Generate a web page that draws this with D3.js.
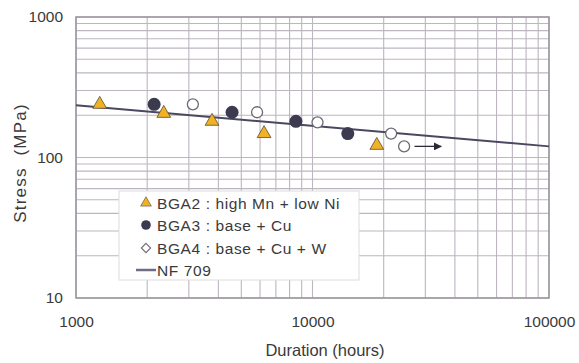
<!DOCTYPE html>
<html>
<head>
<meta charset="utf-8">
<script src="https://cdn.jsdelivr.net/npm/d3@7"></script>
<style>
  body { margin: 0; background: #fff; }
  text { font-family: "Liberation Sans", Arial, sans-serif; fill: #3a3a3a; }
</style>
</head>
<body>
<script>
const width = 579;
const height = 363;

// data
const seriesNames = ["BGA2 : high Mn + low Ni", "BGA3 : base + Cu", "BGA4 : base + Cu + W", "NF 709"];
const bga2Hours = [1260, 2350, 3760, 6240, 18700];
const bga2Stress = [239, 206, 181, 148, 122];
const bga3Hours = [2140, 4570, 8510, 14100];
const bga3Stress = [239, 210, 181, 148];
const bga4Hours = [3120, 5830, 10500, 21500, 24400];
const bga4Stress = [239, 210, 178, 148, 120];
const nf709Hours = [1000, 100000];
const nf709Stress = [235, 120];
const runoutHours = [27000, 35000];
const runoutStress = 120;
const xTicks = [1000, 10000, 100000];
const yTicks = [10, 100, 1000];

const margin = {top: 17, right: 30, bottom: 65, left: 76};

let svg = d3.select("body")
    .append("svg")
    .attr("width", width)
    .attr("height", height)

const x = d3.scaleLog().domain([1000, 100000]).range([margin.left, width - margin.right])
const y = d3.scaleLog().domain([10, 1000]).range([height - margin.bottom, margin.top])

// grid: every 1..9 step of each decade
const xGrid = x.ticks(20)
const yGrid = y.ticks(20)

svg.append("g")
    .selectAll("line")
    .data(xGrid)
    .join("line")
    .attr("x1", d => x(d)).attr("x2", d => x(d))
    .attr("y1", y(10)).attr("y2", y(1000))
    .attr("stroke", "#bdb5c0")
    .attr("stroke-width", 1.1)

svg.append("g")
    .selectAll("line")
    .data(yGrid)
    .join("line")
    .attr("y1", d => y(d)).attr("y2", d => y(d))
    .attr("x1", x(1000)).attr("x2", x(100000))
    .attr("stroke", "#bdb5c0")
    .attr("stroke-width", 1.1)

// frame
svg.append("rect")
    .attr("x", x(1000)).attr("y", y(1000))
    .attr("width", x(100000) - x(1000))
    .attr("height", y(10) - y(1000))
    .attr("fill", "none")
    .attr("stroke", "#9a949c")
    .attr("stroke-width", 1.5)

// axes (labels only, the frame is drawn above)
const xAxis = svg.append("g")
    .attr("transform", `translate(0,${y(10)})`)
    .call(d3.axisBottom(x).tickValues(xTicks).tickFormat(d3.format("d")).tickSize(0).tickPadding(18))
xAxis.select(".domain").remove()
xAxis.selectAll("text").style("font-size", "15.5px").attr("fill", "#3a3a3a")

const yAxis = svg.append("g")
    .attr("transform", `translate(${x(1000)},0)`)
    .call(d3.axisLeft(y).tickValues(yTicks).tickFormat(d3.format("d")).tickSize(0).tickPadding(13))
yAxis.select(".domain").remove()
yAxis.selectAll("text").style("font-size", "15.5px").attr("fill", "#3a3a3a")

svg.append("text")
    .attr("x", 325).attr("y", 356)
    .attr("text-anchor", "middle")
    .style("font-size", "16.5px")
    .text("Duration (hours)")

svg.append("text")
    .attr("transform", "translate(26,163) rotate(-90)")
    .attr("text-anchor", "middle")
    .style("font-size", "17px")
    .style("white-space", "pre")
    .style("letter-spacing", "1.2px")
    .text("Stress  (MPa)")

// NF 709 line
const line = d3.line().x(d => x(d[0])).y(d => y(d[1]))
svg.append("path")
    .datum(d3.zip(nf709Hours, nf709Stress))
    .attr("d", line)
    .attr("fill", "none")
    .attr("stroke", "#4a4860")
    .attr("stroke-width", 2)

// run-out arrow
svg.append("defs").append("marker")
    .attr("id", "arrow")
    .attr("viewBox", "0 0 10 10")
    .attr("refX", 9).attr("refY", 5)
    .attr("markerWidth", 11).attr("markerHeight", 8)
    .attr("markerUnits", "userSpaceOnUse")
    .attr("orient", "auto")
    .append("path")
    .attr("d", "M0,0L10,5L0,10Z")
    .attr("fill", "#2a2a35")
svg.append("line")
    .attr("x1", x(runoutHours[0])).attr("x2", x(runoutHours[1]))
    .attr("y1", y(runoutStress)).attr("y2", y(runoutStress))
    .attr("stroke", "#2a2a35")
    .attr("stroke-width", 1.3)
    .attr("marker-end", "url(#arrow)")

// points
const tri = d3.symbol().type(d3.symbolTriangle).size(82)
svg.append("g")
    .selectAll("path")
    .data(d3.zip(bga2Hours, bga2Stress))
    .join("path")
    .attr("transform", d => `translate(${x(d[0])},${y(d[1])})`)
    .attr("d", tri)
    .attr("fill", "#f0b224")
    .attr("stroke", "#5a4a30")
    .attr("stroke-width", 0.8)

svg.append("g")
    .selectAll("circle")
    .data(d3.zip(bga3Hours, bga3Stress))
    .join("circle")
    .attr("cx", d => x(d[0])).attr("cy", d => y(d[1]))
    .attr("r", 6.5)
    .attr("fill", "#3b3a4f")

svg.append("g")
    .selectAll("circle")
    .data(d3.zip(bga4Hours, bga4Stress))
    .join("circle")
    .attr("cx", d => x(d[0])).attr("cy", d => y(d[1]))
    .attr("r", 5.5)
    .attr("fill", "#fff")
    .attr("stroke", "#6e6a74")
    .attr("stroke-width", 1.3)

// legend
const legend = svg.append("g").attr("transform", "translate(119,191)")
legend.append("rect")
    .attr("width", 240).attr("height", 89)
    .attr("fill", "#fff")
    .attr("stroke", "#dcdcdc")

const rowY = [12, 34, 57, 79]
legend.selectAll("text")
    .data(seriesNames)
    .join("text")
    .attr("x", 38)
    .attr("y", (d, i) => rowY[i] + 6)
    .style("font-size", "15.5px")
    .style("letter-spacing", "0.6px")
    .text(d => d)

legend.append("path")
    .attr("transform", `translate(27,${rowY[0]})`)
    .attr("d", d3.symbol().type(d3.symbolTriangle).size(50))
    .attr("fill", "#f0b224")
    .attr("stroke", "#5a4a30")
    .attr("stroke-width", 0.6)
legend.append("circle")
    .attr("cx", 27).attr("cy", rowY[1]).attr("r", 4.8)
    .attr("fill", "#3b3a4f")
legend.append("path")
    .attr("transform", `translate(27,${rowY[2]})`)
    .attr("d", d3.symbol().type(d3.symbolDiamond2).size(55))
    .attr("fill", "#fff")
    .attr("stroke", "#6e6a74")
    .attr("stroke-width", 1.1)
legend.append("line")
    .attr("x1", 17).attr("x2", 37)
    .attr("y1", rowY[3]).attr("y2", rowY[3])
    .attr("stroke", "#6e6c88")
    .attr("stroke-width", 2.5)
</script>
</body>
</html>
